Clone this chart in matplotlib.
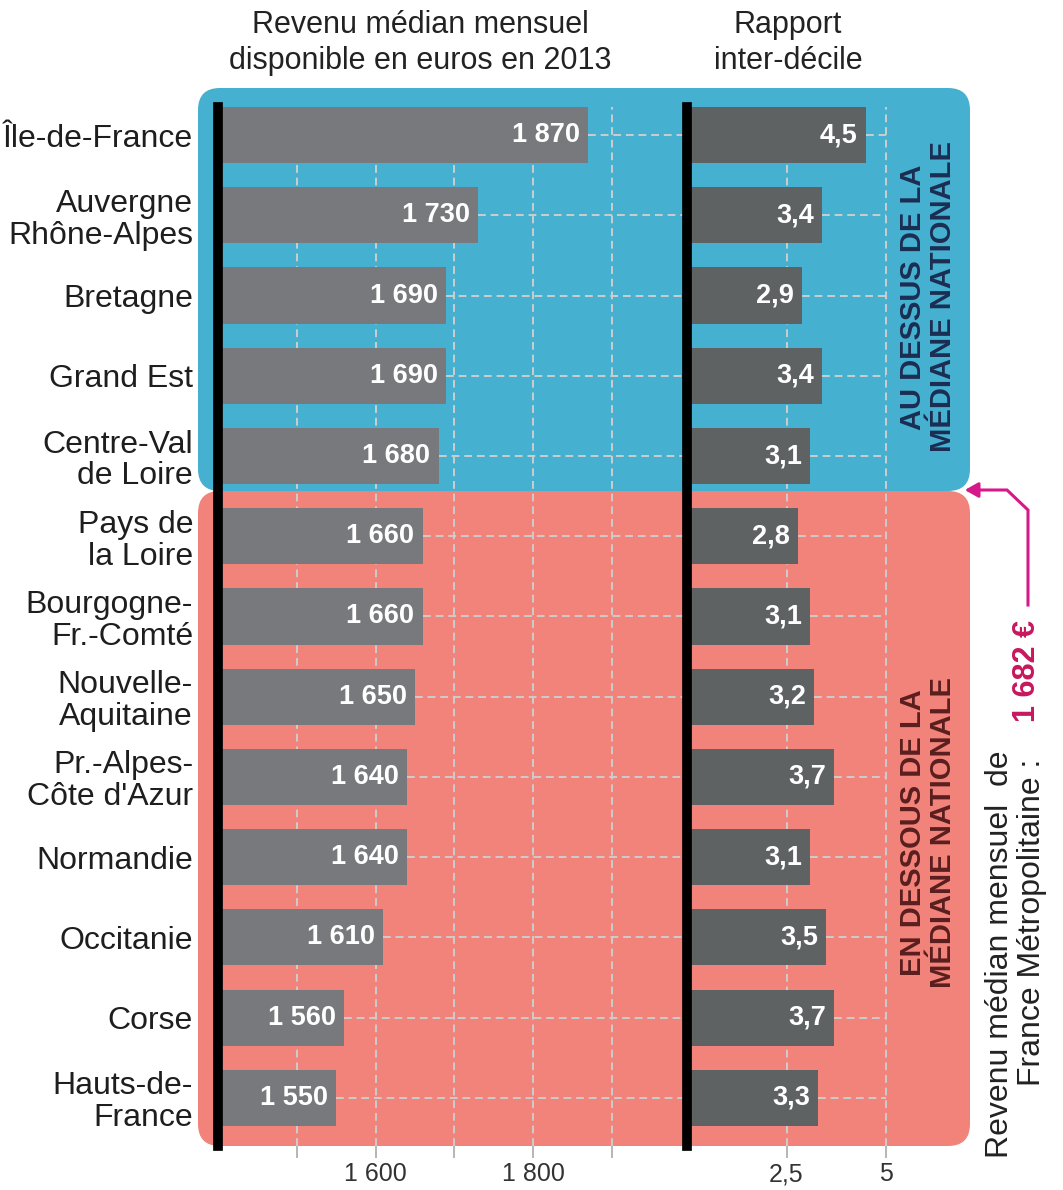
import matplotlib
matplotlib.use('Agg')
import matplotlib.pyplot as plt
from matplotlib.patches import FancyBboxPatch

plt.rcParams['font.family'] = ['Liberation Sans', 'DejaVu Sans']

# data
regions = ['Île-de-France', 'Auvergne\nRhône-Alpes', 'Bretagne', 'Grand Est',
           'Centre-Val\nde Loire', 'Pays de\nla Loire', 'Bourgogne-\nFr.-Comté',
           'Nouvelle-\nAquitaine', "Pr.-Alpes-\nCôte d'Azur", 'Normandie',
           'Occitanie', 'Corse', 'Hauts-de-\nFrance']
revenu = [1870, 1730, 1690, 1690, 1680, 1660, 1660, 1650, 1640, 1640, 1610, 1560, 1550]
rapport = [4.5, 3.4, 2.9, 3.4, 3.1, 2.8, 3.1, 3.2, 3.7, 3.1, 3.5, 3.7, 3.3]
rev_ticks = [1500, 1600, 1700, 1800, 1900]
rev_ticklabels = ['', '1 600', '', '1 800', '']
rap_ticks = [2.5, 5]
rap_ticklabels = ['2,5', '5']
mediane = 1682

blue = '#45b0cf'
red = '#f2837a'
grid_c = '#cdcdcd'
magenta = '#d6198a'

fig = plt.figure(figsize=(10.63, 11.90), dpi=100)

# background boxes (pixel coords)
bg = fig.add_axes([0, 0, 1, 1], zorder=0)
bg.set_xlim(0, 1063); bg.set_ylim(1190, 0); bg.axis('off')
bg.add_patch(FancyBboxPatch((198, 88), 772, 403, boxstyle='round,pad=0,rounding_size=22',
                            fc=blue, ec='none'))
bg.add_patch(FancyBboxPatch((198, 491), 772, 655, boxstyle='round,pad=0,rounding_size=22',
                            fc=red, ec='none'))

bottom = 1 - 1146 / 1190
height = 1039 / 1190
ax1 = fig.add_axes([218 / 1063, bottom, 467 / 1063, height], zorder=1)
ax2 = fig.add_axes([687 / 1063, bottom, 283 / 1063, height], zorder=1)

y = list(range(len(regions)))

def style(ax, xlim, ticks, labels):
    ax.patch.set_alpha(0)
    ax.set_xlim(*xlim)
    ax.set_ylim(12.6, -0.35)
    for s in ['top', 'right', 'bottom']:
        ax.spines[s].set_visible(False)
    ax.spines['left'].set_linewidth(7)
    ax.spines['left'].set_color('black')
    ax.spines['left'].set_zorder(5)
    ax.set_xticks(ticks, labels)
    ax.tick_params(axis='x', length=8.6, width=1.3, color='#b0b0b0', pad=3,
                   labelsize=18, labelcolor='#333333')
    for t in ticks:
        ax.axvline(t, color=grid_c, lw=1.4, ls=(0, (4, 2.5)), zorder=0)

style(ax1, (1400, 1993), rev_ticks, rev_ticklabels)
style(ax2, (0, 7.11), rap_ticks, rap_ticklabels)

ax1.barh(y, revenu, height=0.7, color='#77797c', zorder=2)
ax2.barh(y, rapport, height=0.7, color='#5f6263', zorder=2)
ax1.hlines(y, revenu, 1993, color=grid_c, lw=1.4, ls=(0, (4, 2.5)), zorder=1)
ax2.hlines(y, rapport, 5, color=grid_c, lw=1.4, ls=(0, (4, 2.5)), zorder=1)

for yi, v in zip(y, revenu):
    ax1.annotate(f'{v:,}'.replace(',', ' '), (v, yi), xytext=(-6, 0),
                 textcoords='offset points', ha='right', va='center',
                 color='white', fontsize=19.5, fontweight='bold', zorder=3)
for yi, v in zip(y, rapport):
    ax2.annotate(f'{v:.1f}'.replace('.', ','), (v, yi), xytext=(-6, 0),
                 textcoords='offset points', ha='right', va='center',
                 color='white', fontsize=19.5, fontweight='bold', zorder=3)

ax1.set_yticks(y, regions)
ax1.tick_params(axis='y', length=0, pad=18, labelsize=23, labelcolor='#1e1e1e')
for lab in ax1.get_yticklabels():
    lab.set_linespacing(1.08)
ax2.set_yticks([])

# overlay texts and arrow
top = fig.add_axes([0, 0, 1, 1], zorder=3)
top.set_xlim(0, 1063); top.set_ylim(1190, 0); top.axis('off')
top.text(420, 43, 'Revenu médian mensuel\ndisponible en euros en 2013', ha='center', va='center',
         fontsize=22, color='#222222', linespacing=1.22)
top.text(788, 43, 'Rapport\ninter-décile', ha='center', va='center',
         fontsize=22, color='#222222', linespacing=1.22)
top.text(928, 297, 'AU DESSUS DE LA\nMÉDIANE NATIONALE', rotation=90, ha='center', va='center',
         fontsize=21, fontweight='bold', color='#1b2d52', linespacing=1.08)
top.text(928, 833, 'EN DESSOUS DE LA\nMÉDIANE NATIONALE', rotation=90, ha='center', va='center',
         fontsize=21, fontweight='bold', color='#5a1e1e', linespacing=1.08)
top.text(1016, 750, 'Revenu médian mensuel  de\nFrance Métropolitaine : ', rotation=90,
         ha='center', va='top', multialignment='right', fontsize=23,
         color='#222222', linespacing=1.12)
top.text(1027, 671, f'{mediane:,} €'.replace(',', ' '), rotation=90, ha='center', va='center',
         fontsize=22, fontweight='bold', color='#c8175f')
top.plot([1028, 1028, 1007, 975], [605, 510, 490, 490], color=magenta, lw=2.2,
         solid_joinstyle='miter')
top.annotate('', xy=(962, 490), xytext=(980, 490),
             arrowprops=dict(arrowstyle='-|>,head_length=0.8,head_width=0.45',
                             color=magenta, lw=2.2))

fig.savefig('out.png', dpi=100)
